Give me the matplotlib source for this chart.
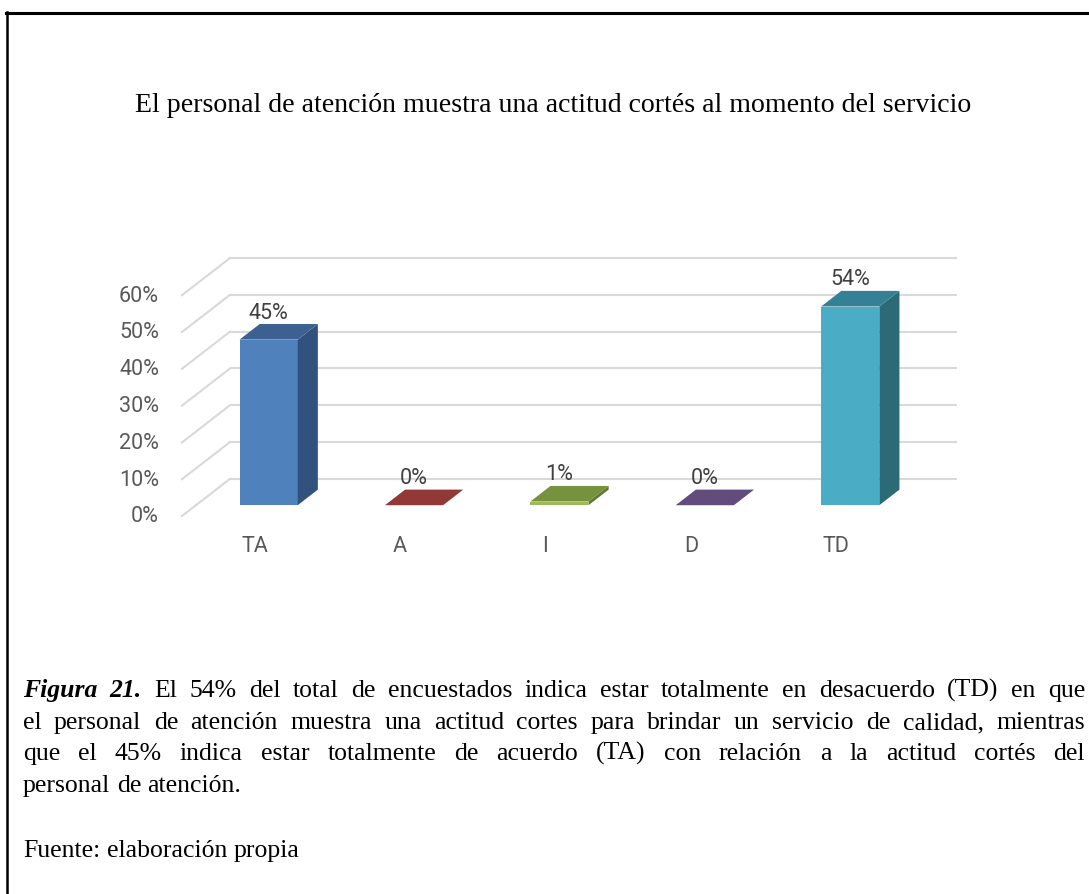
import matplotlib
matplotlib.use("Agg")
import matplotlib.pyplot as plt
from matplotlib.patches import Polygon
from matplotlib.lines import Line2D

# ---- data ----
categories = ["TA", "A", "I", "D", "TD"]
values = [45, 0, 1, 0, 54]
ticks = [0, 10, 20, 30, 40, 50, 60]
title = "El personal de atención muestra una actitud cortés al momento del servicio"
caption_lines = [
    "El 54% del total de encuestados indica estar totalmente en desacuerdo (TD) en que",
    "el personal de atención muestra una actitud cortes para brindar un servicio de calidad, mientras",
    "que el 45% indica estar totalmente de acuerdo (TA) con relación a la actitud cortés del",
    "personal de atención.",
]
caption_lead = "Figura 21."
source = "Fuente: elaboración propia"

front_colors = ["#4F81BD", "#C0504D", "#9BBB59", "#8064A2", "#4BACC6"]
side_colors = ["#31527D", "#7A2C2A", "#5E7A2E", "#4E3B66", "#2D6A78"]
top_colors = ["#3C6191", "#923836", "#77923E", "#624C7C", "#348196"]

W, H = 1089, 894
fig = plt.figure(figsize=(W / 100, H / 100), dpi=100)

# axes mapping: x_px = 182 + (x+0.5)*145.4 ; y_px = 516 - y*3.68
xl = (-1.5, 5.5)
yl = (-10, 80)
px = lambda x: 182 + (x + 0.5) * 145.4
py = lambda y: 516 - y * 3.68
left = px(xl[0]) / W
right = px(xl[1]) / W
bottom = 1 - py(yl[0]) / H
top = 1 - py(yl[1]) / H
ax = fig.add_axes([left, bottom, right - left, top - bottom])
ax.set_xlim(*xl)
ax.set_ylim(*yl)
ax.axis("off")

dx, dy = 0.33, 10.1  # depth offset (category units, percent units)
grid_c = "#D9D9D9"
n = len(categories)
lab_fs = 15.5
for t in ticks:
    ax.plot([-0.5 + dx, n - 0.5 + dx], [t + dy, t + dy], color=grid_c, lw=1.5,
            solid_capstyle="butt", zorder=1)
    ax.plot([-0.5, -0.5 + dx], [t, t + dy], color=grid_c, lw=1.5, zorder=1)
    ax.annotate(f"{t}%", (-0.5, t), xytext=(-23, -1), textcoords="offset pixels",
                ha="right", va="center", fontsize=lab_fs, family="Roboto", color="#595959")

for i, c in enumerate(categories):
    ax.annotate(c, (i, 0), xytext=(0, -31), textcoords="offset pixels",
                ha="center", va="center", fontsize=lab_fs, family="Roboto", color="#595959")

w = 0.4
d0, d1 = 0.29, 0.71
for i, v in enumerate(values):
    xa = i - w / 2 + d0 * dx
    xb = i + w / 2 + d0 * dx
    y0 = d0 * dy
    ddx = (d1 - d0) * dx
    ddy = (d1 - d0) * dy
    if v > 0:
        ax.add_patch(Polygon([(xa, y0), (xb, y0), (xb, y0 + v), (xa, y0 + v)],
                             closed=True, fc=front_colors[i], ec="none", zorder=3))
        ax.add_patch(Polygon([(xb, y0), (xb + ddx, y0 + ddy), (xb + ddx, y0 + ddy + v), (xb, y0 + v)],
                             closed=True, fc=side_colors[i], ec="none", zorder=3))
    ax.add_patch(Polygon([(xa, y0 + v), (xb, y0 + v), (xb + ddx, y0 + ddy + v), (xa + ddx, y0 + ddy + v)],
                         closed=True, fc=top_colors[i], ec="none", zorder=4))
    ax.annotate(f"{v}%", (i + d0 * dx, d1 * dy + v), xytext=(0, 11), textcoords="offset pixels",
                ha="center", va="center", fontsize=lab_fs, family="Roboto", color="#404040", zorder=5)

# ---- title ----
fig.text(553.5 / W, 1 - 112.5 / H, title, ha="center", va="baseline",
         fontsize=20.1, family="Liberation Serif", color="black")

# ---- border ----
fig.add_artist(Line2D([6 / W, 1], [1 - 13 / H, 1 - 13 / H], transform=fig.transFigure,
                      color="black", lw=2.2))
fig.add_artist(Line2D([7 / W, 7 / W], [1 - 12 / H, 0], transform=fig.transFigure,
                      color="black", lw=1.8))

# ---- caption (justified) ----
renderer = fig.canvas.get_renderer()
cap_fs = 18.5
serif = "Liberation Serif"
x_left, x_right = 23, 1085
baselines = [697, 729, 760, 792]


def word_width(word, **kw):
    t = fig.text(0, 0, word, fontsize=cap_fs, family=serif, **kw)
    wd = t.get_window_extent(renderer).width
    t.remove()
    return wd


def draw_line(words, base, justify):
    widths = [word_width(wd, **kw) for wd, kw in words]
    if justify and len(words) > 1:
        gap = (x_right - x_left - sum(widths)) / (len(words) - 1)
    else:
        gap = word_width("a b") - word_width("ab")
    x = x_left
    for (wd, kw), wdt in zip(words, widths):
        fig.text(x / W, 1 - base / H, wd, fontsize=cap_fs, family=serif, ha="left",
                 va="baseline", color="black", **kw)
        x += wdt + gap


bi = dict(fontweight="bold", fontstyle="italic")
line1 = [(w_, bi) for w_ in caption_lead.split()] + [(w_, {}) for w_ in caption_lines[0].split()]
draw_line(line1, baselines[0], True)
draw_line([(w_, {}) for w_ in caption_lines[1].split()], baselines[1], True)
draw_line([(w_, {}) for w_ in caption_lines[2].split()], baselines[2], True)
draw_line([(w_, {}) for w_ in caption_lines[3].split()], baselines[3], False)
draw_line([(w_, {}) for w_ in source.split()], 857, False)

fig.savefig("out.png", dpi=100)
